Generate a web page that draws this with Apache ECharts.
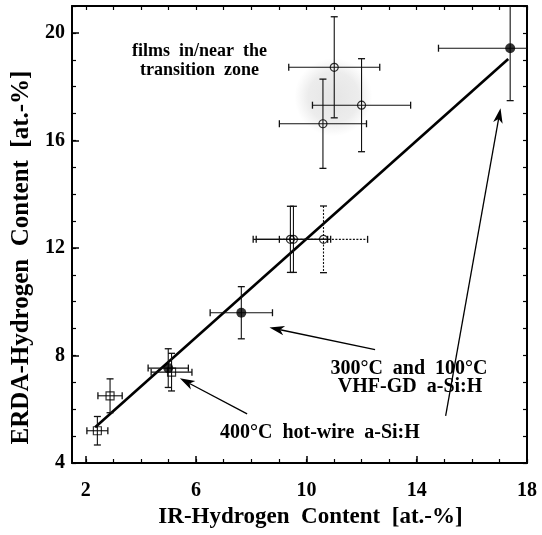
<!DOCTYPE html>
<html><head><meta charset="utf-8">
<script src="https://cdn.jsdelivr.net/npm/echarts@6/dist/echarts.min.js"></script>
<style>html,body{margin:0;padding:0;background:#fff}#c{width:542px;height:535px}</style>
</head><body><div id="c"></div>
<script>
// ---- data ----
const xTickLabels = [2, 6, 10, 14, 18];
const yTickLabels = [4, 8, 12, 16, 20];
const xMinorTicks = [2,3,4,5,6,7,8,9,10,11,12,13,14,15,16,17,18];
const yMinorTicks = [4,5,6,7,8,9,10,11,12,13,14,15,16,17,18,19,20,21];

// filled circles: 300°C and 100°C VHF-GD a-Si:H
const filledX    = [17.39, 7.64, 4.99];
const filledY    = [19.43, 9.59, 7.53];
const filledXErr = [2.60, 1.13, 0.73];
const filledYErr = [1.95, 0.97, 0.72];

// open squares: 400°C hot-wire a-Si:H
const squareX    = [5.11, 2.88, 2.42];
const squareY    = [7.38, 6.50, 5.20];
const squareXErr = [0.74, 0.44, 0.38];
const squareYErr = [0.70, 0.63, 0.53];

// open circles: films in/near the transition zone (and others)
const openX    = [11.01, 12.00, 10.60, 9.42, 9.53, 10.62];
const openY    = [18.72, 17.31, 16.62, 12.32, 12.32, 12.32];
const openXErr = [1.65, 1.78, 1.58, 1.35, 1.35, 1.60];
const openYErr = [1.88, 1.73, 1.66, 1.23, 1.23, 1.24];

// fitted line
const fitX = [2.34, 17.32];
const fitY = [5.33, 19.03];

// transition-zone shading (centre and half-extent in data units)
const zoneCenter = [10.98, 17.61];
const zoneHalf = [1.55, 1.45];

// annotation arrows: from -> to
const arrowFrom = [[7.85, 5.83], [12.49, 8.22], [15.05, 5.75]];
const arrowTo   = [[5.41, 7.15], [8.66, 9.04], [17.04, 17.20]];

// annotation texts
const noteText = ['films  in/near  the', 'transition  zone', '300°C  and  100°C', 'VHF-GD  a-Si:H', '400°C  hot-wire  a-Si:H'];
const noteX = [6.12, 6.12, 13.72, 13.76, 10.49];
const noteY = [19.30, 18.60, 7.50, 6.82, 5.14];

// ---- chart ----
const FONT = '"Liberation Serif", "Times New Roman", serif';
const zip = (a, b, c, d) => a.map((v, i) => d ? [v, b[i], c[i], d[i]] : (c ? [v, b[i], c[i]] : [v, b[i]]));

function errRender(dashedIndex) {
  return function (params, api) {
    const x = api.value(0), y = api.value(1), ex = api.value(2), ey = api.value(3);
    const l = api.coord([x - ex, y]), r = api.coord([x + ex, y]);
    const t = api.coord([x, y + ey]), b = api.coord([x, y - ey]);
    const cap = 3.5;
    const dashed = params.dataIndex === dashedIndex;
    const st = { stroke: '#111', lineWidth: 1.1, lineDash: dashed ? [2, 1.5] : null };
    const cs = { stroke: '#111', lineWidth: 1.3 };
    return {
      type: 'group',
      children: [
        { type: 'line', shape: { x1: l[0], y1: l[1], x2: r[0], y2: r[1] }, style: st },
        { type: 'line', shape: { x1: l[0], y1: l[1] - cap, x2: l[0], y2: l[1] + cap }, style: cs },
        { type: 'line', shape: { x1: r[0], y1: r[1] - cap, x2: r[0], y2: r[1] + cap }, style: cs },
        { type: 'line', shape: { x1: t[0], y1: t[1], x2: b[0], y2: b[1] }, style: st },
        { type: 'line', shape: { x1: t[0] - cap, y1: t[1], x2: t[0] + cap, y2: t[1] }, style: cs },
        { type: 'line', shape: { x1: b[0] - cap, y1: b[1], x2: b[0] + cap, y2: b[1] }, style: cs }
      ]
    };
  };
}

const option = {
  animation: false,
  backgroundColor: '#fff',
  grid: { left: 72, right: 15, top: 6, bottom: 72, containLabel: false },
  xAxis: [
    { type: 'value', min: 1.5, max: 18, position: 'bottom',
      splitLine: { show: false },
      axisLine: { show: true, onZero: false, lineStyle: { color: '#000', width: 2 } },
      axisTick: { show: true, inside: true, length: 7, customValues: xTickLabels, lineStyle: { color: '#000', width: 1.5 } },
      axisLabel: { show: true, customValues: xTickLabels, margin: 18, color: '#000', fontFamily: FONT, fontWeight: 'bold', fontSize: 20 },
      name: 'IR-Hydrogen  Content  [at.-%]', nameLocation: 'middle', nameGap: 43,
      nameTextStyle: { color: '#000', fontFamily: FONT, fontWeight: 'bold', fontSize: 23, padding: [0, 0, 0, 22] } },
    { type: 'value', min: 1.5, max: 18, position: 'bottom',
      splitLine: { show: false }, axisLine: { show: false, onZero: false },
      axisTick: { show: true, inside: true, length: 4, customValues: xMinorTicks, lineStyle: { color: '#000', width: 1.2 } },
      axisLabel: { show: false } },
    { type: 'value', min: 1.5, max: 18, position: 'top',
      splitLine: { show: false },
      axisLine: { show: true, onZero: false, lineStyle: { color: '#000', width: 2 } },
      axisTick: { show: true, inside: true, length: 4, customValues: xMinorTicks, lineStyle: { color: '#000', width: 1.2 } },
      axisLabel: { show: false } }
  ],
  yAxis: [
    { type: 'value', min: 4, max: 21, position: 'left',
      splitLine: { show: false },
      axisLine: { show: true, onZero: false, lineStyle: { color: '#000', width: 2 } },
      axisTick: { show: true, inside: true, length: 7, customValues: yTickLabels, lineStyle: { color: '#000', width: 1.5 } },
      axisLabel: { show: true, customValues: yTickLabels, margin: 7, color: '#000', fontFamily: FONT, fontWeight: 'bold', fontSize: 20 },
      name: 'ERDA-Hydrogen  Content  [at.-%]', nameLocation: 'middle', nameGap: 38, nameRotate: 90,
      nameTextStyle: { color: '#000', fontFamily: FONT, fontWeight: 'bold', fontSize: 25, padding: [0, 46, 0, 0] } },
    { type: 'value', min: 4, max: 21, position: 'left',
      splitLine: { show: false }, axisLine: { show: false, onZero: false },
      axisTick: { show: true, inside: true, length: 4, customValues: yMinorTicks, lineStyle: { color: '#000', width: 1.2 } },
      axisLabel: { show: false } },
    { type: 'value', min: 4, max: 21, position: 'right',
      splitLine: { show: false },
      axisLine: { show: true, onZero: false, lineStyle: { color: '#000', width: 2 } },
      axisTick: { show: true, inside: true, length: 4, customValues: yMinorTicks, lineStyle: { color: '#000', width: 1.2 } },
      axisLabel: { show: false } }
  ],
  series: [
    { // shaded transition zone
      type: 'custom', z: 1, silent: true,
      data: [[zoneCenter[0], zoneCenter[1], zoneHalf[0], zoneHalf[1]]],
      renderItem: function (params, api) {
        const c = api.coord([api.value(0), api.value(1)]);
        const e = api.coord([api.value(0) + api.value(2), api.value(1) + api.value(3)]);
        return { type: 'ellipse', shape: { cx: c[0], cy: c[1], rx: Math.abs(e[0] - c[0]), ry: Math.abs(e[1] - c[1]) },
          style: { fill: new echarts.graphic.RadialGradient(0.5, 0.5, 0.5, [
            { offset: 0, color: 'rgba(160,160,160,0.28)' },
            { offset: 0.65, color: 'rgba(170,170,170,0.22)' },
            { offset: 1, color: 'rgba(180,180,180,0)' }]) } };
      }
    },
    { // fit line
      type: 'line', z: 3, data: zip(fitX, fitY), showSymbol: false, symbol: 'none',
      lineStyle: { color: '#000', width: 2.6 }
    },
    { type: 'custom', z: 4, clip: true, data: zip(filledX, filledY, filledXErr, filledYErr), renderItem: errRender(-1) },
    { type: 'custom', z: 4, clip: true, data: zip(squareX, squareY, squareXErr, squareYErr), renderItem: errRender(-1) },
    { type: 'custom', z: 4, clip: true, data: zip(openX, openY, openXErr, openYErr), renderItem: errRender(5) },
    { type: 'scatter', z: 5, data: zip(filledX, filledY), symbol: 'circle', symbolSize: 10,
      itemStyle: { color: '#000' } },
    { type: 'scatter', z: 5, data: zip(squareX, squareY), symbol: 'rect', symbolSize: 8,
      itemStyle: { color: 'rgba(0,0,0,0)', borderColor: '#000', borderWidth: 1.2 } },
    { type: 'scatter', z: 5, data: zip(openX, openY), symbol: 'circle', symbolSize: 8,
      itemStyle: { color: 'rgba(0,0,0,0)', borderColor: '#000', borderWidth: 1.2 } },
    { // arrows
      type: 'custom', z: 6, silent: true,
      data: arrowFrom.map((f, i) => [f[0], f[1], arrowTo[i][0], arrowTo[i][1]]),
      renderItem: function (params, api) {
        const a = api.coord([api.value(0), api.value(1)]);
        const b = api.coord([api.value(2), api.value(3)]);
        const dx = b[0] - a[0], dy = b[1] - a[1], L = Math.sqrt(dx * dx + dy * dy);
        const ux = dx / L, uy = dy / L, px = -uy, py = ux;
        const hl = 15, hw = 4.8, notch = 4;
        const base = [b[0] - ux * hl, b[1] - uy * hl];
        const inner = [b[0] - ux * (hl - notch), b[1] - uy * (hl - notch)];
        return { type: 'group', children: [
          { type: 'line', shape: { x1: a[0], y1: a[1], x2: inner[0], y2: inner[1] }, style: { stroke: '#000', lineWidth: 1.3 } },
          { type: 'polygon', shape: { points: [b, [base[0] + px * hw, base[1] + py * hw], inner, [base[0] - px * hw, base[1] - py * hw]] },
            style: { fill: '#000' } }
        ] };
      }
    },
    { // annotation texts
      type: 'custom', z: 7, silent: true,
      data: noteX.map((x, i) => [x, noteY[i], i]),
      renderItem: function (params, api) {
        const p = api.coord([api.value(0), api.value(1)]);
        const i = api.value(2);
        const size = i < 2 ? 18 : 20;
        return { type: 'text', style: { text: noteText[i], x: p[0], y: p[1], align: 'center', verticalAlign: 'middle',
          font: 'bold ' + size + 'px ' + FONT, fill: '#000' } };
      }
    }
  ]
};
const chart = echarts.init(document.getElementById('c'), null, { renderer: 'canvas' });
chart.setOption(option);
</script></body></html>
